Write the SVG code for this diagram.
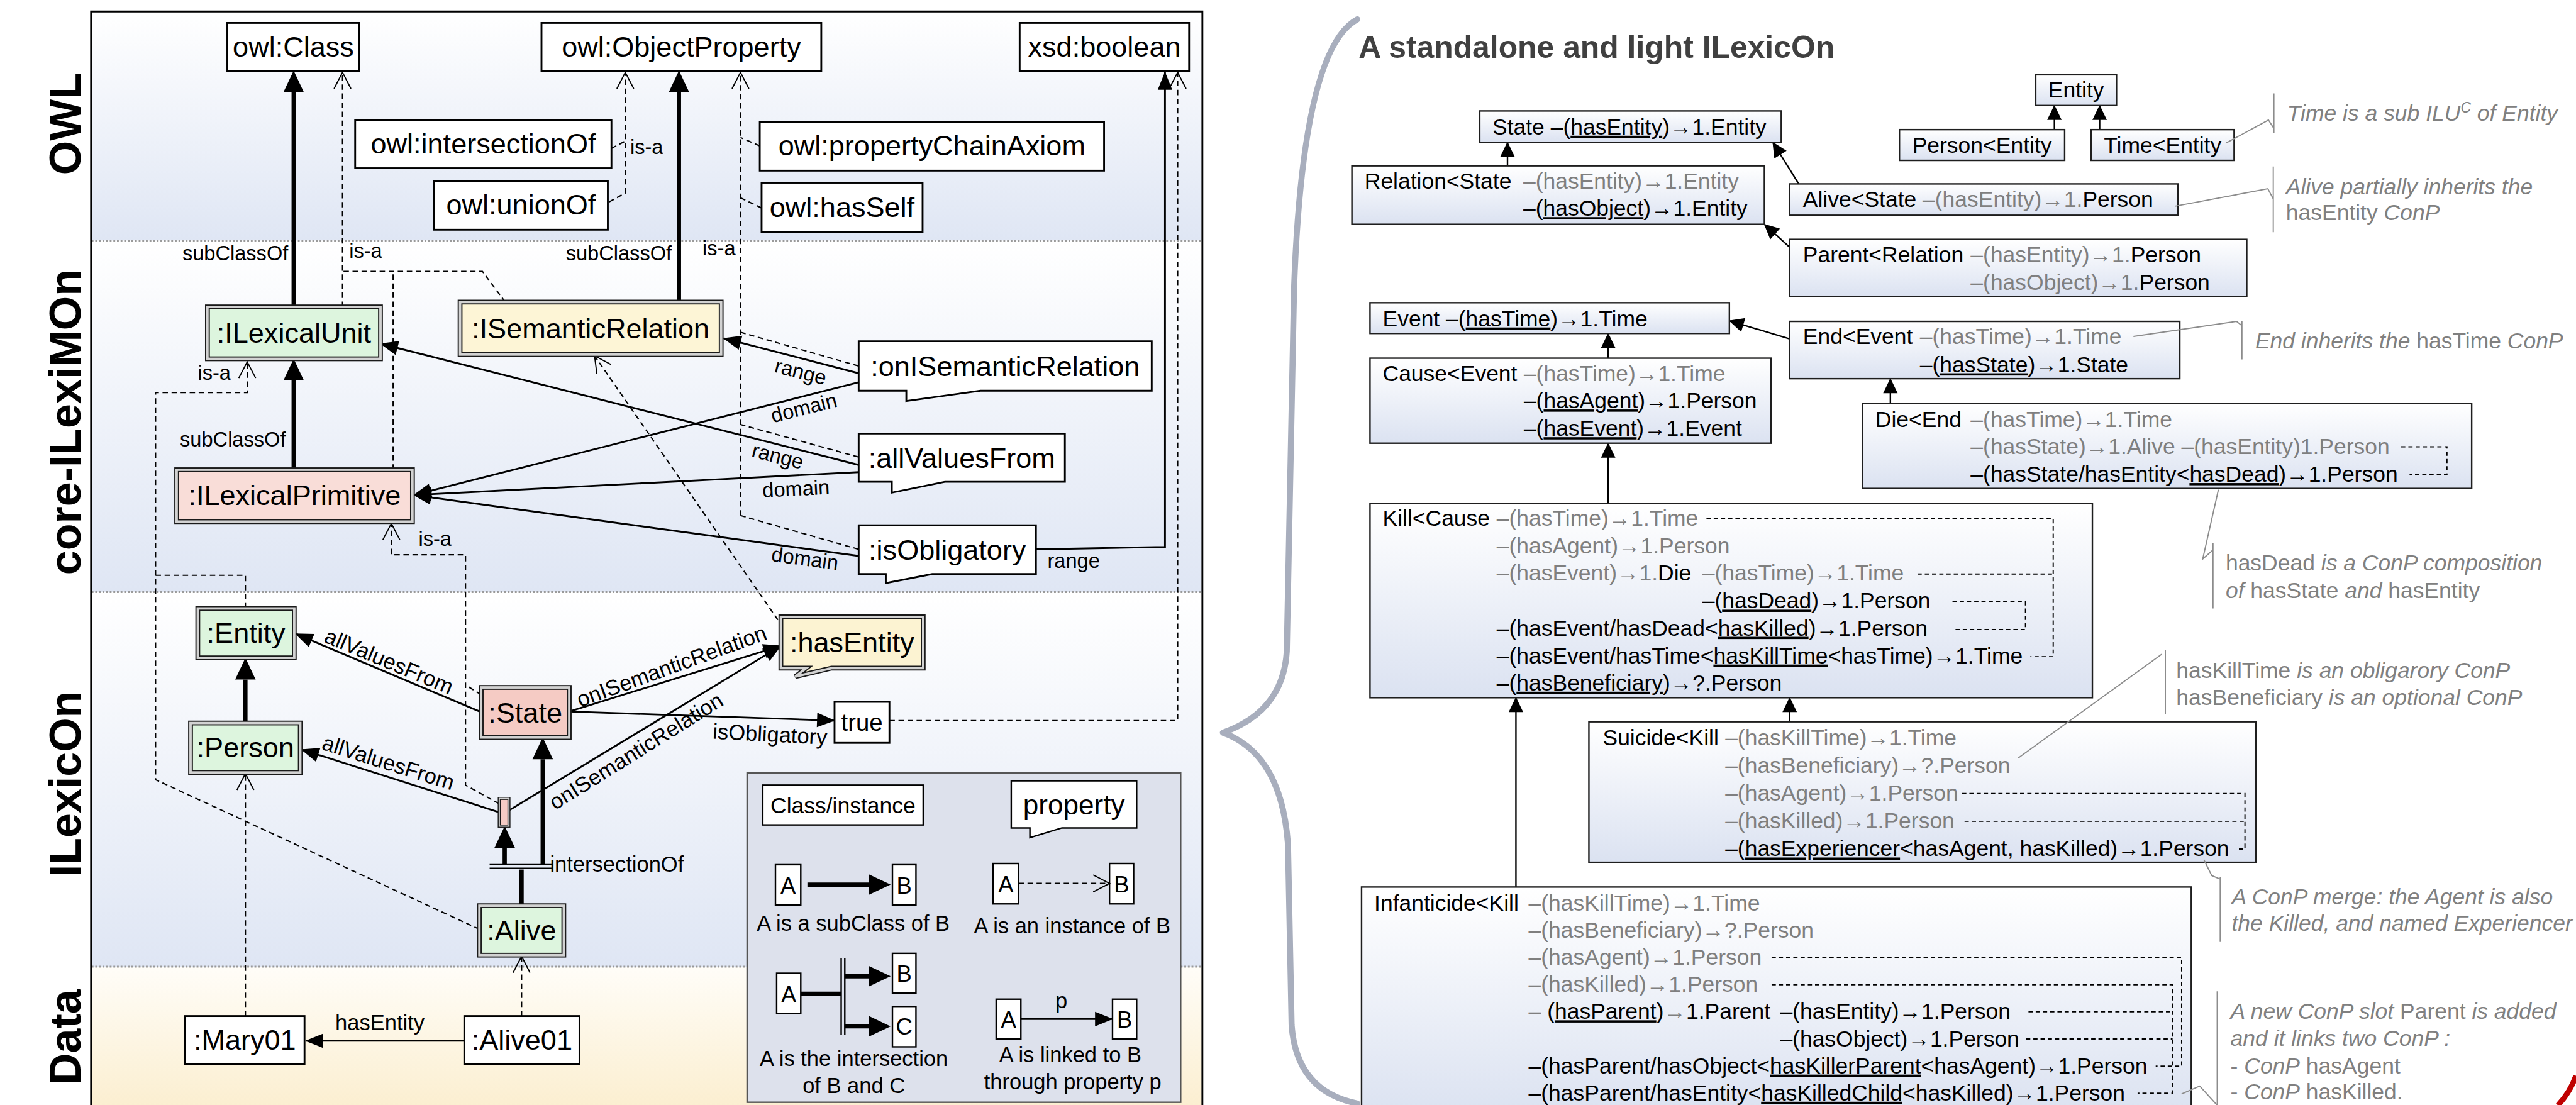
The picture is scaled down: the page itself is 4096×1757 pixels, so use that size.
<svg xmlns="http://www.w3.org/2000/svg" width="4096" height="1757" viewBox="0 0 4096 1757">
<defs>
<linearGradient id="gB" x1="0" y1="0" x2="0" y2="1"><stop offset="0" stop-color="#ffffff"/><stop offset="1" stop-color="#dfe6f4"/></linearGradient>
<linearGradient id="gY" x1="0" y1="0" x2="0" y2="1"><stop offset="0" stop-color="#fffdf8"/><stop offset="1" stop-color="#fbeecf"/></linearGradient>
<linearGradient id="gR" x1="0" y1="0" x2="0" y2="1"><stop offset="0" stop-color="#ffffff"/><stop offset="1" stop-color="#dbe2f1"/></linearGradient>
<marker id="tb" markerUnits="userSpaceOnUse" markerWidth="36" markerHeight="34" refX="0" refY="17" orient="auto" overflow="visible"><path d="M0,0 L36,17 L0,34 z" fill="#000"/></marker>
<marker id="ts" markerUnits="userSpaceOnUse" markerWidth="30" markerHeight="24" refX="29" refY="12" orient="auto" overflow="visible"><path d="M0,0 L30,12 L0,24 z" fill="#000"/></marker>
<marker id="tr" markerUnits="userSpaceOnUse" markerWidth="25" markerHeight="24" refX="24" refY="12" orient="auto" overflow="visible"><path d="M0,0 L25,12 L0,24 z" fill="#000"/></marker>
<marker id="op" markerUnits="userSpaceOnUse" markerWidth="28" markerHeight="28" refX="27" refY="14" orient="auto" overflow="visible"><path d="M0,0 L27,14 L0,28" fill="none" stroke="#000" stroke-width="2"/></marker>
</defs>
<style>
text{font-family:"Liberation Sans",Arial,sans-serif;fill:#000}
.nb{fill:#fff;stroke:#000;stroke-width:3}
.nt{font-size:47px;text-anchor:middle}
.d1{stroke:#1a1a1a;stroke-width:8}
.d2{fill:none;stroke:#d2d2d2;stroke-width:4}
.th{stroke:#000;stroke-width:7;fill:none}
.tn{stroke:#000;stroke-width:3;fill:none}
.da{stroke:#000;stroke-width:2.2;fill:none;stroke-dasharray:9 6}
.el{font-size:34px}
.el2{font-size:36px}
.bl{font-size:73px;font-weight:bold;text-anchor:middle}
.rb{fill:url(#gR);stroke:#1e1e1e;stroke-width:2.5}
.rt{font-size:37px}
.g{fill:#7f7f7f}
.u{text-decoration:underline}
.it{font-style:italic}
.nn{font-size:37px;fill:#808080}
.ll{stroke:#8c8c8c;stroke-width:2;fill:none}
.rd{stroke:#000;stroke-width:2;fill:none;stroke-dasharray:7 5}
.lg{font-size:36px;text-anchor:middle}
.lb{fill:#fff;stroke:#000;stroke-width:2.5}
</style>
<g transform="scale(0.958801)">
<rect x="0" y="0" width="4272" height="1833" fill="#fff"/>
<!-- left panel bands -->
<g id="bands">
<rect x="152" y="19" width="1841" height="380" fill="url(#gB)"/>
<rect x="152" y="399" width="1841" height="583" fill="url(#gB)"/>
<rect x="152" y="982" width="1841" height="621" fill="url(#gB)"/>
<rect x="152" y="1603" width="1841" height="240" fill="url(#gY)"/>
<path d="M152,399 H1993 M152,982 H1993 M152,1603 H1993" stroke="#9a9a9a" stroke-width="3" stroke-dasharray="3 3"/>
<path d="M151,1845 V19 H1994 V1845" fill="none" stroke="#000" stroke-width="3"/>
<text class="bl" transform="translate(133,205) rotate(-90)">OWL</text>
<text class="bl" transform="translate(133,700) rotate(-90)">core-ILexiMOn</text>
<text class="bl" transform="translate(133,1300) rotate(-90)">ILexicOn</text>
<text class="bl" transform="translate(133,1720) rotate(-90)">Data</text>
</g>
<!-- connectors left -->
<g id="connectors">
<path class="th" d="M487,509 V153" marker-end="url(#tb)"/>
<path class="th" d="M1126,501 V153" marker-end="url(#tb)"/>
<path class="th" d="M487,779 V631" marker-end="url(#tb)"/>
<path class="th" d="M407,1199 V1127" marker-end="url(#tb)"/>
<path class="th" d="M900,1434 V1259" marker-end="url(#tb)"/>
<path class="th" d="M837,1434 V1406" marker-end="url(#tb)"/>
<path class="th" d="M865,1502 V1442"/>
<path d="M812,1434 H915 M812,1440 H915" stroke="#000" stroke-width="2.5"/>
<path class="da" d="M568,509 V120" marker-end="url(#op)"/>
<path class="da" d="M838,501 L800,450 H568"/>
<path class="da" d="M652,779 V450"/>
<path class="da" d="M1010,335 L1037,320 V120" marker-end="url(#op)"/>
<path class="da" d="M1014,246 L1037,234"/>
<path class="da" d="M1228,855 V120" marker-end="url(#op)"/>
<path class="da" d="M1260,242 L1228,228"/>
<path class="da" d="M1263,345 L1228,328"/>
<path class="da" d="M1424,607 L1228,551"/>
<path class="da" d="M1424,758 L1228,704"/>
<path class="da" d="M1424,911 L1228,855"/>
<path class="da" d="M1475,1195 H1953 V120" marker-end="url(#op)"/>
<path class="da" d="M1290,1028 L986,590" marker-end="url(#op)"/>
<path class="da" d="M795,1541 L258,1293 V651 H410 V600" marker-end="url(#op)"/>
<path class="da" d="M407,1009 V954 H258"/>
<path class="da" d="M828,1333 L772,1302 V920 H649 V868" marker-end="url(#op)"/>
<path class="da" d="M798,1152 L772,1136"/>
<path class="da" d="M407,1685 V1283" marker-end="url(#op)"/>
<path class="da" d="M865,1685 V1586" marker-end="url(#op)"/>
<path class="tn" d="M1424,619 L1200,561" marker-end="url(#ts)"/>
<path class="tn" d="M1424,771 L631,570" marker-end="url(#ts)"/>
<path class="tn" d="M1424,634 L686,821" marker-end="url(#ts)"/>
<path class="tn" d="M1424,783 L686,821" marker-end="url(#ts)"/>
<path class="tn" d="M1424,922 L686,821" marker-end="url(#ts)"/>
<path class="tn" d="M1718,911 L1932,907 V120" marker-end="url(#ts)"/>
<path class="tn" d="M798,1181 L490,1051" marker-end="url(#ts)"/>
<path class="tn" d="M828,1347 L500,1243" marker-end="url(#ts)"/>
<path class="tn" d="M944,1180 L1295,1071" marker-end="url(#ts)"/>
<path class="tn" d="M844,1344 L1295,1071" marker-end="url(#ts)"/>
<path class="tn" d="M944,1180 L1384,1195" marker-end="url(#ts)"/>
<path class="tn" d="M770,1726 H507" marker-end="url(#ts)"/>
<!-- edge labels -->
<text class="el" x="478" y="432" text-anchor="end">subClassOf</text>
<text class="el" x="579" y="428">is-a</text>
<text class="el" x="1114" y="432" text-anchor="end">subClassOf</text>
<text class="el" x="1165" y="423">is-a</text>
<text class="el" x="1045" y="256">is-a</text>
<text class="el" x="328" y="630">is-a</text>
<text class="el" x="474" y="741" text-anchor="end">subClassOf</text>
<text class="el" x="694" y="905">is-a</text>
<text class="el" text-anchor="middle" transform="translate(1328,616) rotate(14.5)" y="12">range</text>
<text class="el" text-anchor="middle" transform="translate(1333,676) rotate(-14.2)" y="12">domain</text>
<text class="el" text-anchor="middle" transform="translate(1290,756) rotate(14.2)" y="12">range</text>
<text class="el" text-anchor="middle" transform="translate(1320,810) rotate(-2.9)" y="12">domain</text>
<text class="el" text-anchor="middle" transform="translate(1335,926) rotate(7.8)" y="12">domain</text>
<text class="el" x="1737" y="942">range</text>
<text class="el2" text-anchor="middle" transform="translate(645,1097) rotate(22.8)" y="12">allValuesFrom</text>
<text class="el2" text-anchor="middle" transform="translate(644,1265) rotate(17.5)" y="12">allValuesFrom</text>
<text class="el2" text-anchor="middle" transform="translate(1114,1105) rotate(-20)" y="12">onISemanticRelation</text>
<text class="el2" text-anchor="middle" transform="translate(1055,1246) rotate(-32)" y="12">onISemanticRelation</text>
<text class="el2" text-anchor="middle" transform="translate(1277,1218) rotate(3)" y="12">isObligatory</text>
<text class="el2" x="912" y="1446">intersectionOf</text>
<text class="el2" x="630" y="1708" text-anchor="middle">hasEntity</text>
</g>
<!-- OWL nodes -->
<g id="owlClass"><rect class="nb" x="377" y="38" width="219" height="80"/><text class="nt" x="486.5" y="94">owl:Class</text></g>
<g id="owlObjectProperty"><rect class="nb" x="898" y="38" width="464" height="80"/><text class="nt" x="1130" y="94">owl:ObjectProperty</text></g>
<g id="xsdBoolean"><rect class="nb" x="1691" y="38" width="281" height="80"/><text class="nt" x="1831.5" y="94">xsd:boolean</text></g>
<g id="owlIntersectionOf"><rect class="nb" x="589" y="199" width="425" height="80"/><text class="nt" x="801.5" y="255">owl:intersectionOf</text></g>
<g id="owlUnionOf"><rect class="nb" x="720" y="300" width="288" height="81"/><text class="nt" x="864" y="356">owl:unionOf</text></g>
<g id="owlPropertyChainAxiom"><rect class="nb" x="1260" y="202" width="571" height="81"/><text class="nt" x="1545.5" y="258">owl:propertyChainAxiom</text></g>
<g id="owlHasSelf"><rect class="nb" x="1263" y="303" width="267" height="82"/><text class="nt" x="1396.5" y="360">owl:hasSelf</text></g>
<!-- core nodes -->
<g id="ILexicalUnit"><rect class="d1" x="344" y="509" width="287" height="86" fill="#ddf5de"/><rect class="d2" x="344" y="509" width="287" height="86"/><text class="nt" x="487.5" y="568">:ILexicalUnit</text></g>
<g id="ISemanticRelation"><rect class="d1" x="763" y="501" width="433" height="87" fill="#fdf5d6"/><rect class="d2" x="763" y="501" width="433" height="87"/><text class="nt" x="979.5" y="561">:ISemanticRelation</text></g>
<g id="ILexicalPrimitive"><rect class="d1" x="293" y="779" width="391" height="86" fill="#f9ddd8"/><rect class="d2" x="293" y="779" width="391" height="86"/><text class="nt" x="488.5" y="838">:ILexicalPrimitive</text></g>
<g id="onISemanticRelation"><path class="nb" d="M1424,566 H1910 V648 H1626 L1503,665 V648 H1424 Z"/><text class="nt" x="1667" y="624">:onISemanticRelation</text></g>
<g id="allValuesFrom"><path class="nb" d="M1424,719 H1766 V799 H1567 L1479,817 V799 H1424 Z"/><text class="nt" x="1595" y="776">:allValuesFrom</text></g>
<g id="isObligatory"><path class="nb" d="M1424,871 H1718 V952 H1546 L1469,967 V952 H1424 Z"/><text class="nt" x="1571" y="928">:isObligatory</text></g>
<!-- ILexicOn nodes -->
<g id="Entity"><rect class="d1" x="328" y="1009" width="160" height="82" fill="#ddf5de"/><rect class="d2" x="328" y="1009" width="160" height="82"/><text class="nt" x="408" y="1066">:Entity</text></g>
<g id="Person"><rect class="d1" x="316" y="1199" width="182" height="82" fill="#ddf5de"/><rect class="d2" x="316" y="1199" width="182" height="82"/><text class="nt" x="407" y="1256">:Person</text></g>
<g id="State"><rect class="d1" x="798" y="1140" width="146" height="83" fill="#f5cbc4"/><rect class="d2" x="798" y="1140" width="146" height="83"/><text class="nt" x="871" y="1198">:State</text></g>
<g id="restriction"><rect x="828" y="1324" width="16" height="46" fill="#f5cbc4" stroke="#1a1a1a" stroke-width="5"/><rect x="828" y="1324" width="16" height="46" fill="none" stroke="#d2d2d2" stroke-width="2"/></g>
<g id="Alive"><rect class="d1" x="795" y="1502" width="140" height="82" fill="#ddf5de"/><rect class="d2" x="795" y="1502" width="140" height="82"/><text class="nt" x="865" y="1559">:Alive</text></g>
<g id="hasEntity"><path class="d1" d="M1295,1023 H1531 V1108 H1379 L1319,1122 L1337,1108 H1295 Z" fill="#fcf3d2"/><path class="d2" d="M1295,1023 H1531 V1108 H1379 L1319,1122 L1337,1108 H1295 Z"/><text class="nt" x="1413" y="1082">:hasEntity</text></g>
<g id="true"><rect class="nb" x="1384" y="1164" width="91" height="68"/><text x="1429.5" y="1212" font-size="40" text-anchor="middle">true</text></g>
<g id="Mary01"><rect class="nb" x="307" y="1685" width="198" height="80"/><text class="nt" x="406" y="1741">:Mary01</text></g>
<g id="Alive01"><rect class="nb" x="770" y="1685" width="191" height="80"/><text class="nt" x="865.5" y="1741">:Alive01</text></g>
<!-- legend -->
<g id="legend">
<rect x="1239" y="1282" width="719" height="546" fill="#dde1ec" stroke="#555" stroke-width="2.5"/>
<rect class="lb" x="1265" y="1302" width="266" height="66"/><text x="1398" y="1349" font-size="37" text-anchor="middle">Class/instance</text>
<path class="lb" d="M1677,1295 H1885 V1373 H1761 L1708,1389 V1373 H1677 Z"/><text x="1781" y="1351" font-size="46" text-anchor="middle">property</text>
<rect class="lb" x="1286" y="1434" width="42" height="67"/><text x="1307" y="1482" font-size="38" text-anchor="middle">A</text>
<rect class="lb" x="1480" y="1434" width="39" height="67"/><text x="1499.5" y="1482" font-size="38" text-anchor="middle">B</text>
<path class="th" d="M1339,1467 H1441" marker-end="url(#tb)"/>
<text class="lg" x="1415" y="1544">A is a subClass of B</text>
<rect class="lb" x="1647" y="1432" width="42" height="67"/><text x="1668" y="1480" font-size="38" text-anchor="middle">A</text>
<rect class="lb" x="1840" y="1432" width="40" height="67"/><text x="1860" y="1480" font-size="38" text-anchor="middle">B</text>
<path class="da" d="M1689,1465 H1840" marker-end="url(#op)"/>
<text class="lg" x="1778" y="1548">A is an instance of B</text>
<rect class="lb" x="1288" y="1614" width="40" height="67"/><text x="1308" y="1662" font-size="38" text-anchor="middle">A</text>
<path class="th" d="M1328,1648 H1395"/>
<path d="M1395,1589 V1716 M1401,1589 V1716" stroke="#000" stroke-width="2.5"/>
<path class="th" d="M1401,1619 H1441" marker-end="url(#tb)"/>
<path class="th" d="M1401,1702 H1441" marker-end="url(#tb)"/>
<rect class="lb" x="1480" y="1581" width="39" height="66"/><text x="1499.5" y="1628" font-size="38" text-anchor="middle">B</text>
<rect class="lb" x="1480" y="1669" width="39" height="67"/><text x="1499.5" y="1716" font-size="38" text-anchor="middle">C</text>
<text class="lg" x="1416" y="1768">A is the intersection</text>
<text class="lg" x="1416" y="1813">of B and C</text>
<rect class="lb" x="1652" y="1657" width="41" height="66"/><text x="1672.5" y="1704" font-size="38" text-anchor="middle">A</text>
<rect class="lb" x="1845" y="1657" width="40" height="66"/><text x="1865" y="1704" font-size="38" text-anchor="middle">B</text>
<path class="tn" d="M1693,1690 H1845" marker-end="url(#ts)"/>
<text class="lg" x="1760" y="1672">p</text>
<text class="lg" x="1775" y="1762">A is linked to B</text>
<text class="lg" x="1779" y="1806">through property p</text>
</g>
<!-- brace -->
<path d="M2251,32 Q2160,80 2146,480 L2134,1080 Q2128,1180 2028,1215 Q2125,1250 2136,1400 L2142,1700 Q2150,1810 2251,1830" fill="none" stroke="#a8aebd" stroke-width="10" stroke-linecap="round" stroke-linejoin="round"/>
<path d="M4272,1784 Q4262,1812 4242,1833" fill="none" stroke="#c00000" stroke-width="9"/>
<!-- right panel -->
<text x="2253" y="96" font-size="52" font-weight="bold" fill="#404040" style="fill:#404040">A standalone and light ILexicOn</text>
<g id="right-connectors">
<path class="tn" style="stroke-width:2.5" d="M3407,215 V175" marker-end="url(#tr)"/>
<path class="tn" style="stroke-width:2.5" d="M3482,215 V175" marker-end="url(#tr)"/>
<path class="tn" style="stroke-width:2.5" d="M2500,275 V236" marker-end="url(#tr)"/>
<path class="tn" style="stroke-width:2.5" d="M2983,305 L2940,236" marker-end="url(#tr)"/>
<path class="tn" style="stroke-width:2.5" d="M2968,410 L2926,372" marker-end="url(#tr)"/>
<path class="tn" style="stroke-width:2.5" d="M2968,562 L2868,532" marker-end="url(#tr)"/>
<path class="tn" style="stroke-width:2.5" d="M2667,594 V553" marker-end="url(#tr)"/>
<path class="tn" style="stroke-width:2.5" d="M3135,669 V628" marker-end="url(#tr)"/>
<path class="tn" style="stroke-width:2.5" d="M2667,835 V735" marker-end="url(#tr)"/>
<path class="tn" style="stroke-width:2.5" d="M2514,1471 V1157" marker-end="url(#tr)"/>
<path class="tn" style="stroke-width:2.5" d="M2968,1197 V1157" marker-end="url(#tr)"/>
</g>
<g id="r-Entity"><rect class="rb" x="3376" y="124" width="134" height="51"/><text class="rt" x="3443" y="162" text-anchor="middle">Entity</text></g>
<g id="r-Person"><rect class="rb" x="3150" y="215" width="274" height="51"/><text class="rt" x="3287" y="253" text-anchor="middle">Person&lt;Entity</text></g>
<g id="r-Time"><rect class="rb" x="3468" y="215" width="237" height="51"/><text class="rt" x="3586.5" y="253" text-anchor="middle">Time&lt;Entity</text></g>
<g id="r-State"><rect class="rb" x="2454" y="184" width="500" height="52"/><text class="rt" x="2475" y="223">State –(<tspan class="u">hasEntity</tspan>)→1.Entity</text></g>
<g id="r-Relation"><rect class="rb" x="2242" y="275" width="684" height="97"/><text class="rt" x="2263" y="313">Relation&lt;State<tspan class="g" x="2526">–(hasEntity)→1.Entity</tspan></text><text class="rt" x="2526" y="358">–(<tspan class="u">hasObject</tspan>)→1.Entity</text></g>
<g id="r-Alive"><rect class="rb" x="2968" y="305" width="644" height="52"/><text class="rt" x="2990" y="343">Alive&lt;State <tspan class="g">–(hasEntity)→1.</tspan>Person</text></g>
<g id="r-Parent"><rect class="rb" x="2968" y="397" width="758" height="95"/><text class="rt" x="2990" y="435">Parent&lt;Relation<tspan class="g" x="3268">–(hasEntity)→1.</tspan>Person</text><text class="rt" x="3268" y="481"><tspan class="g">–(hasObject)→1.</tspan>Person</text></g>
<g id="r-Event"><rect class="rb" x="2272" y="502" width="596" height="51"/><text class="rt" x="2293" y="541">Event –(<tspan class="u">hasTime</tspan>)→1.Time</text></g>
<g id="r-End"><rect class="rb" x="2968" y="533" width="647" height="95"/><text class="rt" x="2990" y="571">End&lt;Event<tspan class="g" x="3184">–(hasTime)→1.Time</tspan></text><text class="rt" x="3184" y="617">–(<tspan class="u">hasState</tspan>)→1.State</text></g>
<g id="r-Cause"><rect class="rb" x="2272" y="594" width="665" height="141"/><text class="rt" x="2293" y="632">Cause&lt;Event<tspan class="g" x="2527">–(hasTime)→1.Time</tspan></text><text class="rt" x="2527" y="677">–(<tspan class="u">hasAgent</tspan>)→1.Person</text><text class="rt" x="2527" y="723">–(<tspan class="u">hasEvent</tspan>)→1.Event</text></g>
<g id="r-Die"><rect class="rb" x="3089" y="669" width="1010" height="141"/><text class="rt" x="3110" y="708">Die&lt;End<tspan class="g" x="3268">–(hasTime)→1.Time</tspan></text><text class="rt g" x="3268" y="753">–(hasState)→1.Alive –(hasEntity)1.Person</text><text class="rt" x="3268" y="799">–(hasState/hasEntity&lt;<tspan class="u">hasDead</tspan>)→1.Person</text><path class="rd" d="M3982,741 H4058 V787 H3996"/></g>
<g id="r-Kill"><rect class="rb" x="2272" y="835" width="1198" height="322"/>
<text class="rt" x="2293" y="872">Kill&lt;Cause<tspan class="g" x="2482">–(hasTime)→1.Time</tspan></text>
<text class="rt g" x="2482" y="918">–(hasAgent)→1.Person</text>
<text class="rt" x="2482" y="963"><tspan class="g">–(hasEvent)→1.</tspan>Die<tspan class="g" x="2823">–(hasTime)→1.Time</tspan></text>
<text class="rt" x="2823" y="1009">–(<tspan class="u">hasDead</tspan>)→1.Person</text>
<text class="rt" x="2482" y="1054">–(hasEvent/hasDead&lt;<tspan class="u">hasKilled</tspan>)→1.Person</text>
<text class="rt" x="2482" y="1100">–(hasEvent/hasTime&lt;<tspan class="u">hasKillTime</tspan>&lt;hasTime)→1.Time</text>
<text class="rt" x="2482" y="1145">–(<tspan class="u">hasBeneficiary</tspan>)→?.Person</text>
<path class="rd" d="M2830,860 H3405 V1089 H3367 M3180,952 H3405 M3238,998 H3359 V1044 H3238"/></g>
<g id="r-Suicide"><rect class="rb" x="2635" y="1197" width="1106" height="233"/>
<text class="rt" x="2658" y="1236">Suicide&lt;Kill<tspan class="g" x="2861">–(hasKillTime)→1.Time</tspan></text>
<text class="rt g" x="2861" y="1282">–(hasBeneficiary)→?.Person</text>
<text class="rt g" x="2861" y="1328">–(hasAgent)→1.Person</text>
<text class="rt g" x="2861" y="1374">–(hasKilled)→1.Person</text>
<text class="rt" x="2861" y="1420">–(<tspan class="u">hasExperiencer</tspan>&lt;hasAgent, hasKilled)→1.Person</text>
<path class="rd" d="M3254,1316 H3723 V1408 H3712 M3258,1362 H3723"/></g>
<g id="r-Infanticide"><rect class="rb" x="2258" y="1471" width="1376" height="380"/>
<text class="rt" x="2279" y="1510">Infanticide&lt;Kill<tspan class="g" x="2535">–(hasKillTime)→1.Time</tspan></text>
<text class="rt g" x="2535" y="1555">–(hasBeneficiary)→?.Person</text>
<text class="rt g" x="2535" y="1600">–(hasAgent)→1.Person</text>
<text class="rt g" x="2535" y="1645">–(hasKilled)→1.Person</text>
<text class="rt" x="2535" y="1690"><tspan class="g">– </tspan>(<tspan class="u">hasParent</tspan>)<tspan class="g">→</tspan>1.Parent<tspan x="2952">–(hasEntity)→1.Person</tspan></text>
<text class="rt" x="2952" y="1735">–(hasObject)→1.Person</text>
<text class="rt" x="2535" y="1780">–(hasParent/hasObject&lt;<tspan class="u">hasKillerParent</tspan>&lt;hasAgent)→1.Person</text>
<text class="rt" x="2535" y="1825">–(hasParent/hasEntity&lt;<tspan class="u">hasKilledChild</tspan>&lt;hasKilled)→1.Person</text>
<path class="rd" d="M2938,1588 H3618 V1768 H3575 M2938,1633 H3603 V1813 H3545 M3364,1678 H3603 M3360,1723 H3603"/></g>
<!-- notes -->
<g id="notes">
<path class="ll" d="M3771,155 V220 M3692,237 L3762,199 L3771,213"/>
<text class="nn it" x="3793" y="200">Time is a sub ILU<tspan font-size="24" baseline-shift="super">C</tspan> of Entity</text>
<path class="ll" d="M3770,276 V385 M3607,342 L3761,313 L3770,330"/>
<text class="nn it" x="3791" y="322">Alive partially inherits the</text>
<text class="nn" x="3791" y="365">hasEntity <tspan class="it">ConP</tspan></text>
<path class="ll" d="M3718,533 V596 M3538,558 L3709,533 L3718,540"/>
<text class="nn" x="3740" y="578"><tspan class="it">End inherits the </tspan>hasTime<tspan class="it"> ConP</tspan></text>
<path class="ll" d="M3670,901 V1009 M3679,812 L3653,927 L3670,912"/>
<text class="nn" x="3691" y="946">hasDead<tspan class="it"> is a ConP composition</tspan></text>
<text class="nn" x="3691" y="992"><tspan class="it">of</tspan> hasState <tspan class="it">and</tspan> hasEntity</text>
<path class="ll" d="M3591,1078 V1184 M3347,1257 L3585,1085"/>
<text class="nn" x="3609" y="1124">hasKillTime<tspan class="it"> is an obligarory ConP</tspan></text>
<text class="nn" x="3609" y="1169">hasBeneficiary<tspan class="it"> is an optional ConP</tspan></text>
<path class="ll" d="M3682,1454 V1562 M3655,1426 L3668,1452 L3682,1458"/>
<text class="nn it" x="3701" y="1500">A ConP merge: the Agent is also</text>
<text class="nn it" x="3701" y="1544">the Killed, and named Experiencer</text>
<path class="ll" d="M3677,1644 V1840 M3618,1814 L3648,1801 L3677,1833"/>
<text class="nn" x="3699" y="1690"><tspan class="it">A new ConP slot </tspan>Parent<tspan class="it"> is added</tspan></text>
<text class="nn it" x="3699" y="1734">and it links two ConP :</text>
<text class="nn" x="3699" y="1780"> - <tspan class="it">ConP</tspan> hasAgent</text>
<text class="nn" x="3699" y="1823"> - <tspan class="it">ConP</tspan> hasKilled.</text>
</g>
</g>
</svg>
